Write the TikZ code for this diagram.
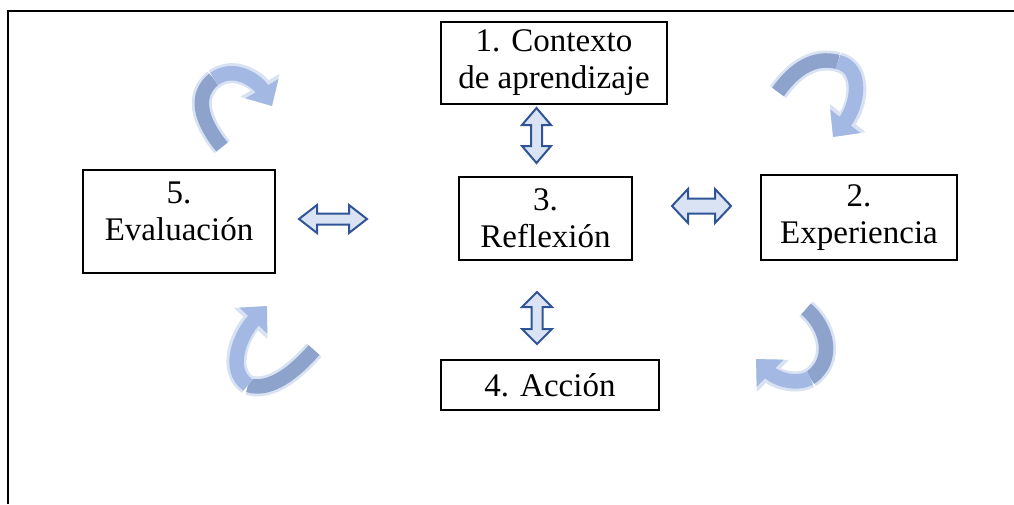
\documentclass[tikz,border=0pt]{standalone}
\usepackage{fontspec}
\setmainfont{Liberation Serif}
\usetikzlibrary{arrows.meta}
\definecolor{arrowfill}{HTML}{DAE3F3}
\definecolor{arrowline}{HTML}{2F5597}
\definecolor{ribbonlight}{HTML}{A3B9E4}
\definecolor{ribbondark}{HTML}{8DA3CC}
\definecolor{ribbonhalo}{HTML}{D8E2F3}
\begin{document}
\begin{tikzpicture}[x=1pt,y=-1pt,
  box/.style={draw=black, line width=1.3pt, inner sep=0pt, align=center,
    font=\fontsize{33}{37}\selectfont},
  caption/.style={inner sep=0pt, align=center, font=\fontsize{33}{37}\selectfont},
  dbl/.style={draw=arrowline, fill=arrowfill, line width=2pt, line join=miter},
  halo/.style={draw=ribbonhalo, line width=20pt},
  ribdark/.style={draw=ribbondark, line width=14.5pt},
  riblight/.style={draw=ribbonlight, line width=14.5pt},
  halohead/.style={-{Triangle[length=24pt,width=44pt]}},
  ribhead/.style={-{Triangle[length=20pt,width=37pt]}},
]
\useasboundingbox (0,0) rectangle (1014,504);

% frame
\draw[line width=2pt] (8,504) -- (8,11) -- (1014,11);

% stages
\node[box, minimum width=226pt, minimum height=82pt] (contexto) at (554,63) {1. Contexto\\de aprendizaje};
\node[box, minimum width=173pt, minimum height=83pt] (reflexion) at (545.5,218.5) {3.\\Reflexión};
\node[box, minimum width=196pt, minimum height=85pt] (experiencia) at (859,217.5) {2.\\Experiencia};
\node[box, minimum width=192pt, minimum height=103pt] (evalbox) at (179,221.5) {};
\node[caption] (evaluacion) at ([yshift=10pt]evalbox.center) {5.\\Evaluación};
\node[box, minimum width=218pt, minimum height=50pt] (accion) at (550,385) {4. Acción};

% double-headed block arrows
\path[dbl] (299,219) -- (317,205) -- (317,213.5) -- (349,213.5) -- (349,205) -- (367,219)
  -- (349,233) -- (349,224.5) -- (317,224.5) -- (317,233) -- cycle;
\path[dbl] (672,206) -- (688,189) -- (688,198.5) -- (715,198.5) -- (715,189) -- (731,206)
  -- (715,223) -- (715,213.5) -- (688,213.5) -- (688,223) -- cycle;
\path[dbl] (536.5,108) -- (551,125) -- (542,125) -- (542,146) -- (551,146) -- (536.5,163)
  -- (522,146) -- (531,146) -- (531,125) -- (522,125) -- cycle;
\path[dbl] (537,292) -- (552,307) -- (542.5,307) -- (542.5,329) -- (552,329) -- (537,344)
  -- (522,329) -- (531.5,329) -- (531.5,307) -- (522,307) -- cycle;

% curved ribbons
\coordinate (tl-a) at (222,147); \coordinate (tl-m) at (214,79); \coordinate (tl-b) at (272,106);
\coordinate (tr-a) at (778,92);  \coordinate (tr-m) at (838,62); \coordinate (tr-b) at (833,137);
\coordinate (br-a) at (806,309); \coordinate (br-m) at (810,378); \coordinate (br-b) at (756,359);
\coordinate (bl-a) at (314,350); \coordinate (bl-m) at (248,385); \coordinate (bl-b) at (267,306);

% top left
\draw[halo] (tl-a) .. controls (200,120) and (194,95) .. (tl-m);
\draw[ribdark] (tl-a) .. controls (200,120) and (194,95) .. (tl-m);
\draw[halo, halohead] (tl-m) .. controls (235,64) and (258,82) .. (tl-b);
\draw[riblight, ribhead] (tl-m) .. controls (235,64) and (258,82) .. (tl-b);
% top right
\draw[halo] (tr-a) .. controls (795,68) and (815,56) .. (tr-m);
\draw[ribdark] (tr-a) .. controls (795,68) and (815,56) .. (tr-m);
\draw[halo, halohead] (tr-m) .. controls (864,68) and (858,105) .. (tr-b);
\draw[riblight, ribhead] (tr-m) .. controls (864,68) and (858,105) .. (tr-b);
% bottom right
\draw[halo] (br-a) .. controls (826,325) and (837,360) .. (br-m);
\draw[ribdark] (br-a) .. controls (826,325) and (837,360) .. (br-m);
\draw[halo, halohead] (br-m) .. controls (795,386) and (775,378) .. (br-b);
\draw[riblight, ribhead] (br-m) .. controls (795,386) and (775,378) .. (br-b);
% bottom left
\draw[halo] (bl-a) .. controls (295,372) and (270,392) .. (bl-m);
\draw[ribdark] (bl-a) .. controls (295,372) and (270,392) .. (bl-m);
\draw[halo, halohead] (bl-m) .. controls (226,370) and (240,335) .. (bl-b);
\draw[riblight, ribhead] (bl-m) .. controls (226,370) and (240,335) .. (bl-b);
\end{tikzpicture}
\end{document}
